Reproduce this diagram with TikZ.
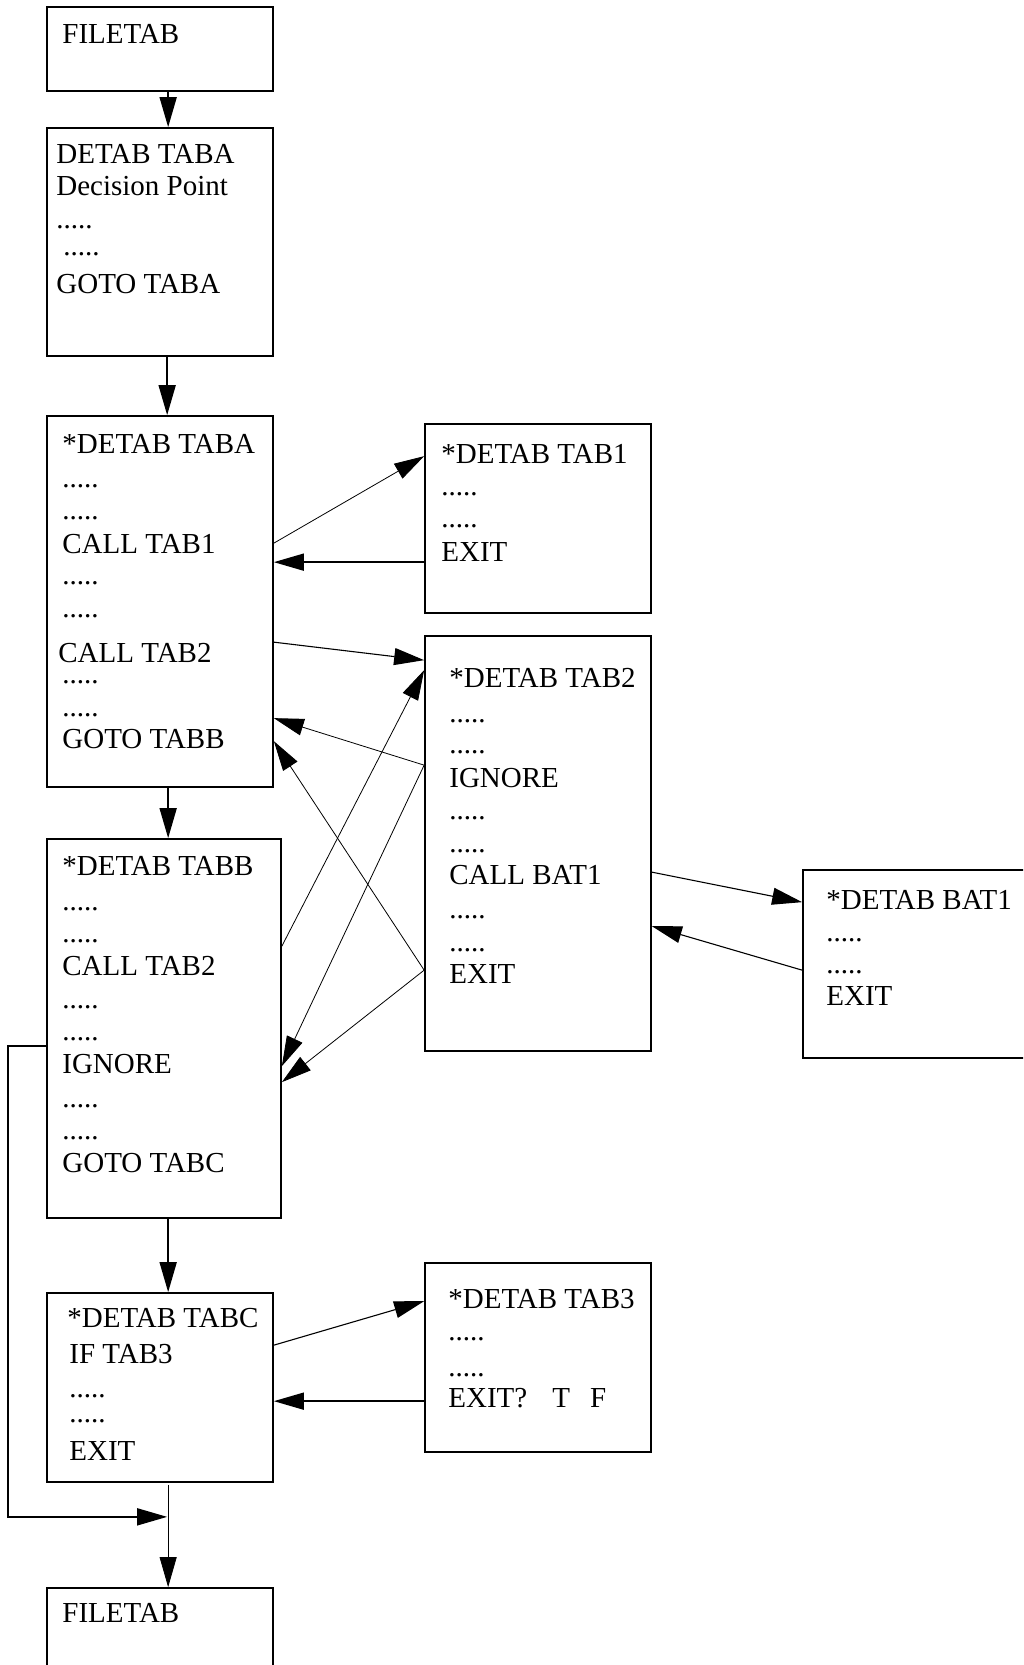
\documentclass[tikz,border=0pt]{standalone}
\usepackage{fontspec}
\setmainfont{Liberation Serif}
\usetikzlibrary{arrows.meta,calc,fit}
% a row of dots whose box is only as tall as the dots themselves
\newcommand{\dotrow}{\raisebox{0pt}[0.15em][0pt]{.....}}

\begin{document}
\begin{tikzpicture}[x=0.5pt,y=-0.5pt,
  box/.style={draw,line width=0.85pt,inner sep=0pt},
  txt/.style={anchor=base west,inner sep=0pt,font=\fontsize{14.5}{16}\selectfont},
  tip/.style={-{Triangle[length=15pt,width=8.5pt]}},
  heavy/.style={tip,line width=0.85pt},
  medium/.style={tip,line width=0.55pt},
  light/.style={tip,line width=0.4pt}]
\useasboundingbox (0,0) rectangle (1023,1665);
\clip (0,0) rectangle (1023,1665);

% ---- boxes ----
\node[box,fit={(47,7)(273,91)}] (file1) {};
\node[box,fit={(47,128)(273,356)}] (detab) {};
\node[box,fit={(47,416)(273,787)}] (taba) {};
\node[box,fit={(425,424)(651,613)}] (tab1) {};
\node[box,fit={(425,636)(651,1051)}] (tab2) {};
\node[box,fit={(47,839)(281,1218)}] (tabb) {};
\node[box,fit={(803,870)(1040,1058)}] (bat1) {};
\node[box,fit={(47,1293)(273,1482)}] (tabc) {};
\node[box,fit={(425,1263)(651,1452)}] (tab3) {};
\node[box,fit={(47,1588)(273,1700)}] (file2) {};

% ---- box contents ----
\node[txt] (file1-1) at (62,43) {FILETAB};

\foreach \x/\y/\t [count=\i] in {56/163/DETAB TABA, 56/195/Decision Point,
    56/228/\dotrow, 63/255/\dotrow, 56/293/GOTO TABA}
  \node[txt] (detab-\i) at (\x,\y) {\t};

\foreach \x/\y/\t [count=\i] in {62/453/*DETAB TABA, 62/487/\dotrow, 62/519/\dotrow,
    62/553/CALL TAB1, 62/584/\dotrow, 62/617/\dotrow, 58/662/CALL TAB2,
    62/683/\dotrow, 62/716/\dotrow, 62/748/GOTO TABB}
  \node[txt] (taba-\i) at (\x,\y) {\t};

\foreach \y/\t [count=\i] in {463/*DETAB TAB1, 495/\dotrow, 527/\dotrow, 561/EXIT}
  \node[txt] (tab1-\i) at (441,\y) {\t};

\foreach \y/\t [count=\i] in {687/*DETAB TAB2, 722/\dotrow, 753/\dotrow, 787/IGNORE,
    819/\dotrow, 852/\dotrow, 884/CALL BAT1, 918/\dotrow, 951/\dotrow, 983/EXIT}
  \node[txt] (tab2-\i) at (449,\y) {\t};

\foreach \y/\t [count=\i] in {875/*DETAB TABB, 910/\dotrow, 942/\dotrow, 975/CALL TAB2,
    1008/\dotrow, 1040/\dotrow, 1073/IGNORE, 1107/\dotrow, 1139/\dotrow, 1172/GOTO TABC}
  \node[txt] (tabb-\i) at (62,\y) {\t};

\foreach \y/\t [count=\i] in {909/*DETAB BAT1, 941/\dotrow, 973/\dotrow, 1005/EXIT}
  \node[txt] (bat1-\i) at (826,\y) {\t};

\foreach \x/\y/\t [count=\i] in {67/1327/*DETAB TABC, 69/1363/IF TAB3,
    69/1397/\dotrow, 69/1422/\dotrow, 69/1460/EXIT}
  \node[txt] (tabc-\i) at (\x,\y) {\t};

\foreach \y/\t [count=\i] in {1308/*DETAB TAB3, 1340/\dotrow, 1376/\dotrow}
  \node[txt] (tab3-\i) at (448,\y) {\t};
\node[txt] (tab3-4) at (448,1407) {EXIT?\hspace{12.5pt}T\hspace{10pt}F};

\node[txt] (file2-1) at (62,1622) {FILETAB};

% ---- main flow ----
\draw[heavy] ($(file1.south west)+(122,0)$) -- ($(detab.north west)+(122,0)$);
\draw[heavy] ($(detab.south west)+(121,0)$) -- ($(taba.north west)+(121,0)$);
\draw[heavy] ($(taba.south west)+(122,0)$) -- ($(tabb.north west)+(122,0)$);
\draw[heavy] ($(tabb.south west)+(122,0)$) -- ($(tabc.north west)+(122,0)$);
\draw[light] ($(tabc.south west)+(122,2)$) -- ($(file2.north west)+(122,0)$);
\coordinate (merge) at ($(tabc.south west)+(121,34)$);
\draw[heavy] ($(tabb.north west)+(0,208)$) -- ++(-38,0) |- (merge);

% ---- calls and returns ----
\draw[light]  ($(taba.north east)+(0,128)$) -- ($(tab1.north west)+(0,33)$);
\draw[heavy]  ($(tab1.north west)+(0,139)$) -- ($(taba.north east)+(0,147)$);
\draw[medium] ($(taba.north east)+(0,227)$) -- ($(tab2.north west)+(0,25)$);
\draw[light]  ($(tab2.north west)+(0,130)$) -- ($(taba.north east)+(0,303)$);
\draw[light]  ($(tab2.north west)+(0,335)$) -- ($(taba.north east)+(0,326)$);
\draw[light]  ($(tabb.north east)+(0,108)$) -- ($(tab2.north west)+(0,35)$);
\draw[light]  ($(tab2.north west)+(0,130)$) -- ($(tabb.north east)+(0,228)$);
\draw[light]  ($(tab2.north west)+(0,335)$) -- ($(tabb.north east)+(0,244)$);
\draw[medium] ($(tab2.north east)+(0,237)$) -- ($(bat1.north west)+(0,33)$);
\draw[medium] ($(bat1.north west)+(0,101)$) -- ($(tab2.north east)+(0,291)$);
\draw[medium] ($(tabc.north east)+(0,53)$) -- ($(tab3.north west)+(0,39)$);
\draw[heavy]  ($(tab3.north west)+(0,139)$) -- ($(tabc.north east)+(0,109)$);
\end{tikzpicture}
\end{document}
